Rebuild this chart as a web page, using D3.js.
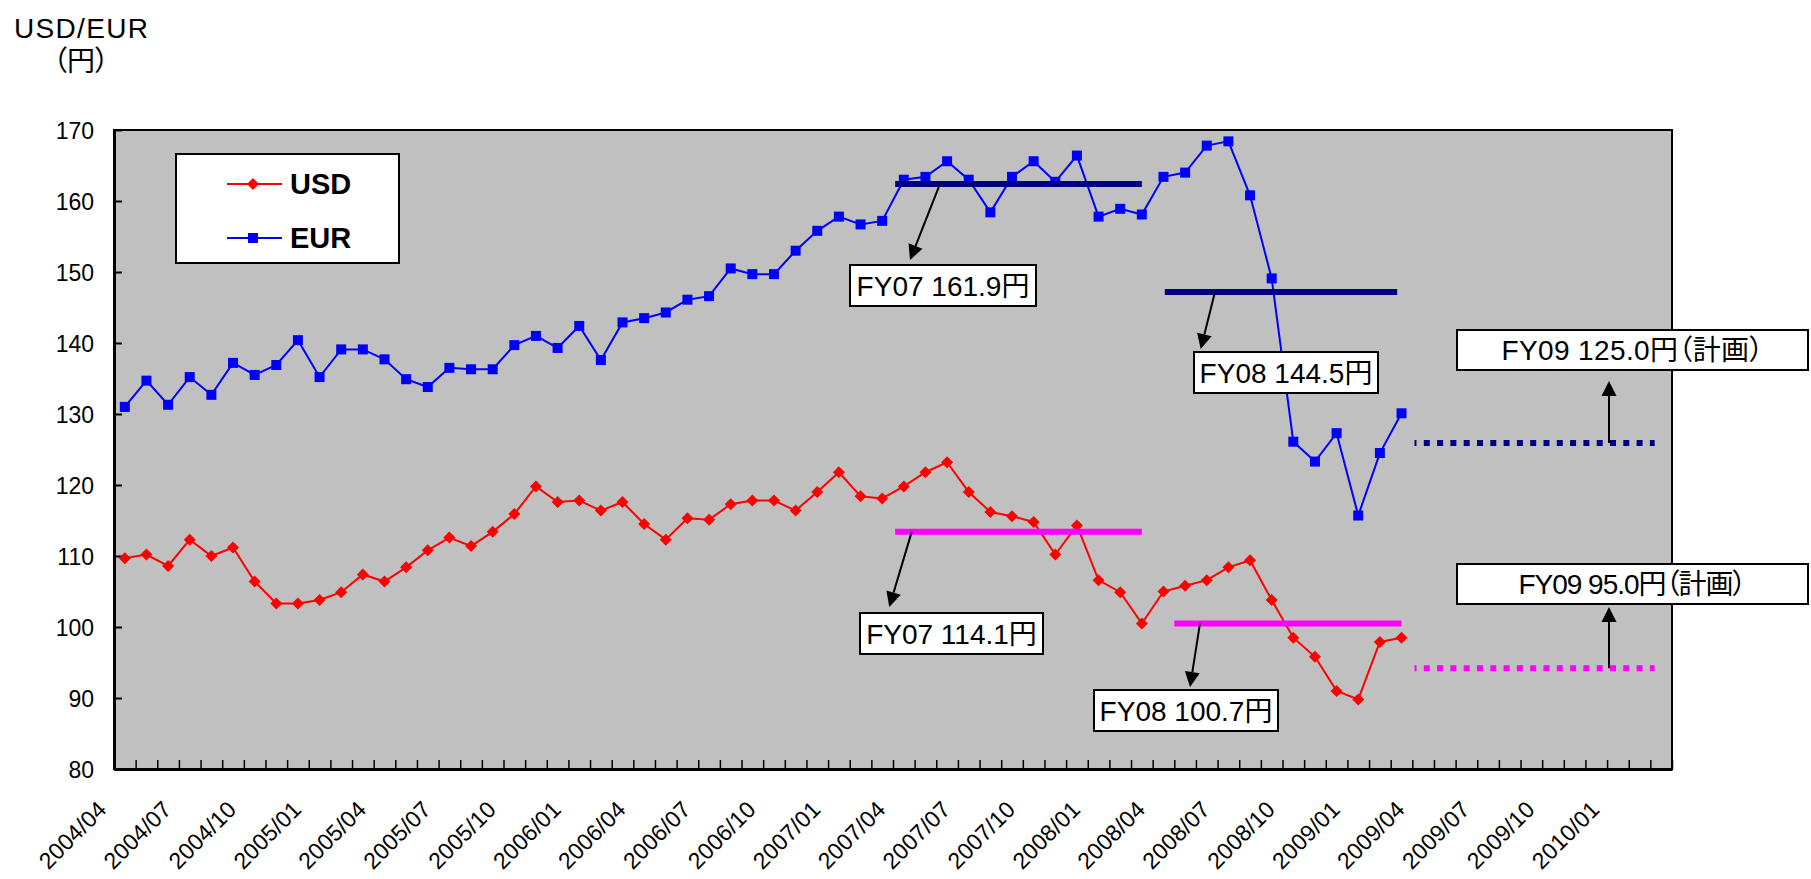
<!DOCTYPE html>
<html><head><meta charset="utf-8">
<script src="https://cdn.jsdelivr.net/npm/d3@7"></script>
<style>
html,body{margin:0;padding:0;background:#fff;}
svg{display:block;}
text{font-family:"Liberation Sans","Noto Sans CJK JP",sans-serif;fill:#000;font-feature-settings:"palt";}
</style></head><body>
<svg id="chart" width="1811" height="879"></svg>
<script>
// ---------------- DATA ----------------
const months = [
 "2004/04","2004/05","2004/06","2004/07","2004/08","2004/09","2004/10","2004/11","2004/12",
 "2005/01","2005/02","2005/03","2005/04","2005/05","2005/06","2005/07","2005/08","2005/09","2005/10","2005/11","2005/12",
 "2006/01","2006/02","2006/03","2006/04","2006/05","2006/06","2006/07","2006/08","2006/09","2006/10","2006/11","2006/12",
 "2007/01","2007/02","2007/03","2007/04","2007/05","2007/06","2007/07","2007/08","2007/09","2007/10","2007/11","2007/12",
 "2008/01","2008/02","2008/03","2008/04","2008/05","2008/06","2008/07","2008/08","2008/09","2008/10","2008/11","2008/12",
 "2009/01","2009/02","2009/03","2009/04","2009/05","2009/06","2009/07","2009/08","2009/09","2009/10","2009/11","2009/12",
 "2010/01","2010/02","2010/03"
];
const tickLabels = ["2004/04","2004/07","2004/10","2005/01","2005/04","2005/07","2005/10","2006/01","2006/04","2006/07","2006/10","2007/01","2007/04","2007/07","2007/10","2008/01","2008/04","2008/07","2008/10","2009/01","2009/04","2009/07","2009/10","2010/01"];
const yTicks = [80,90,100,110,120,130,140,150,160,170];

const usd = [109.7,110.2,108.6,112.3,110.0,111.2,106.4,103.3,103.3,103.8,104.9,107.4,106.4,108.4,110.8,112.6,111.4,113.4,115.9,119.8,
 117.6,117.8,116.4,117.6,114.5,112.3,115.3,115.1,117.3,117.8,117.8,116.4,119.0,121.8,118.4,118.1,119.8,121.8,123.2,119.0,
 116.2,115.6,114.8,110.2,114.3,106.6,104.9,100.5,105.0,105.8,106.6,108.4,109.4,103.8,98.5,95.8,91.0,89.8,97.9,98.5];
const eur = [131.0,134.7,131.3,135.2,132.7,137.2,135.5,136.9,140.4,135.2,139.1,139.1,137.7,134.9,133.8,136.5,136.3,136.3,139.7,141.0,
 139.3,142.4,137.6,142.9,143.5,144.3,146.1,146.6,150.5,149.7,149.7,153.0,155.8,157.8,156.7,157.2,163.0,163.4,165.6,163.0,
 158.4,163.4,165.6,162.7,166.4,157.8,158.9,158.1,163.4,164.0,167.8,168.4,160.8,149.1,126.1,123.3,127.3,115.7,124.5,130.1];

const fyStart = ["2007/04","2008/04","2009/04"];
const fyEnd   = ["2008/03","2009/03","2010/03"];
const usdAvgLevel = [113.4,100.5,94.2];
const eurAvgLevel = [162.4,147.2,125.9];
const usdAvgLabel = ["FY07 114.1円","FY08 100.7円","FY09 95.0円（計画）"];
const eurAvgLabel = ["FY07 161.9円","FY08 144.5円","FY09 125.0円（計画）"];

// ---------------- LAYOUT / STYLE ----------------
const P = {l:114, r:1672, t:130, b:769};
const svg = d3.select("#chart");

const x = d3.scaleBand().domain(months).range([P.l, P.r]).padding(0);
const step = x.step();
const cx = m => x(m) + step/2;
const xi = d3.scaleLinear().domain([0, months.length]).range([P.l, P.r]);
const y = d3.scaleLinear().domain([80,170]).range([P.b, P.t]);

// plot area
svg.append("rect").attr("x",P.l).attr("y",P.t).attr("width",P.r-P.l).attr("height",P.b-P.t)
  .attr("fill","#C0C0C0").attr("stroke","#000").attr("stroke-width",2);

// y axis
const yAxis = svg.append("g").attr("transform",`translate(${P.l},0)`)
  .call(d3.axisLeft(y).tickValues(yTicks).tickSize(-8).tickSizeOuter(0).tickPadding(20));
yAxis.select(".domain").attr("stroke","#000").attr("stroke-width",3);
yAxis.selectAll(".tick line").attr("stroke","#000").attr("stroke-width",2);
yAxis.selectAll(".tick text").attr("font-size",23).attr("font-family",null).attr("dy","0.36em");

// x axis (boundary ticks)
const xAxis = svg.append("g").attr("transform",`translate(0,${P.b})`)
  .call(d3.axisBottom(xi).tickValues(d3.range(months.length+1)).tickSize(-9).tickSizeOuter(0).tickFormat(""));
xAxis.select(".domain").attr("stroke","#000").attr("stroke-width",3);
xAxis.selectAll(".tick line").attr("stroke","#000").attr("stroke-width",1.5);

// x labels
const xLab = svg.append("g").attr("transform",`translate(0,${P.b})`)
  .call(d3.axisBottom(x).tickValues(tickLabels).tickSize(0));
xLab.select(".domain").remove();
xLab.selectAll(".tick text").attr("font-size",23).attr("font-family",null)
  .attr("x",0).attr("y",0).attr("dy",0).attr("text-anchor","end")
  .attr("textLength",84).attr("lengthAdjust","spacing")
  .attr("transform","translate(-17,42) rotate(-45)");

// series
const line = d3.line().x((d,i)=>cx(months[i])).y(d=>y(d));
svg.append("path").datum(usd).attr("d",line).attr("fill","none").attr("stroke","#FF0000").attr("stroke-width",2);
svg.append("path").datum(eur).attr("d",line).attr("fill","none").attr("stroke","#0000FF").attr("stroke-width",2);

const diamond = d3.symbol().type(d3.symbolSquare).size(72);
svg.append("g").selectAll("path").data(usd).join("path")
  .attr("d",diamond).attr("fill","#FF0000")
  .attr("transform",(d,i)=>`translate(${cx(months[i])},${y(d)}) rotate(45)`);
svg.append("g").selectAll("rect").data(eur).join("rect")
  .attr("x",(d,i)=>cx(months[i])-5).attr("y",d=>y(d)-5).attr("width",10).attr("height",10).attr("fill","#0000FF");

// FY average lines
const fyOff = [[-0.4,0.0],[0.06,-0.2],[-0.4,-0.3]];
const fyOffUsd = [[-0.4,0.0],[0.5,0.0],[-0.4,-0.3]];
function fyLine(levels, offs, color){
  levels.forEach((v,i)=>{
    const x1 = cx(fyStart[i]) + offs[i][0]*step, x2 = cx(fyEnd[i]) + offs[i][1]*step;
    const ln = svg.append("line").attr("x1",x1).attr("x2",x2).attr("y1",y(v)).attr("y2",y(v))
      .attr("stroke",color).attr("stroke-width",6);
    if(i===2) ln.attr("stroke-dasharray","6 7.3").attr("stroke-dashoffset",4);
  });
}
fyLine(eurAvgLevel, fyOff, "#000080");
fyLine(usdAvgLevel, fyOffUsd, "#FF00FF");

// annotations: [arrow start x (px), tip x, tip y, box x, box y, box w, box h, text length]
const eurAnn = [[940,910,260,850,265,186,41,0],[1215,1200.7,349,1194,352,184,41,0],[1609,1609,381,1457,330,351,40,262]];
const usdAnn = [[911.7,889.3,607,860,613,183,41,0],[1200,1190,687,1094,690,184,41,0],[1609,1609,607,1457,564,351,40,228]];
function annotate(levels, labels, ann){
  levels.forEach((v,i)=>{
    const [sx,tx,ty,bx,by,bw,bh,tl] = ann[i];
    const sy = y(v);
    const dx = tx-sx, dy = ty-sy, L = Math.hypot(dx,dy), ux = dx/L, uy = dy/L;
    const hl = 15, hw = 7.5;
    const bxp = tx-ux*hl, byp = ty-uy*hl;
    svg.append("line").attr("x1",sx).attr("y1",sy).attr("x2",bxp).attr("y2",byp)
      .attr("stroke","#000").attr("stroke-width",2);
    svg.append("path").attr("d",`M${tx},${ty}L${bxp-uy*hw},${byp+ux*hw}L${bxp+uy*hw},${byp-ux*hw}Z`).attr("fill","#000");
    svg.append("rect").attr("x",bx).attr("y",by).attr("width",bw).attr("height",bh)
      .attr("fill","#fff").attr("stroke","#000").attr("stroke-width",2);
    const t = svg.append("text").attr("x",bx+bw/2).attr("y",by+bh/2).attr("dy","0.36em")
      .attr("text-anchor","middle").attr("font-size",28).text(labels[i]);
    if(tl) t.attr("textLength",tl).attr("lengthAdjust","spacing");
  });
}
annotate(eurAvgLevel, eurAvgLabel, eurAnn);
annotate(usdAvgLevel, usdAvgLabel, usdAnn);

// legend
const lg = svg.append("g");
lg.append("rect").attr("x",176).attr("y",154).attr("width",223).attr("height",109)
  .attr("fill","#fff").attr("stroke","#000").attr("stroke-width",2);
const legendItems = [["USD","#FF0000","d",184],["EUR","#0000FF","s",238]];
legendItems.forEach(([name,col,shape,ly])=>{
  lg.append("line").attr("x1",227).attr("x2",282).attr("y1",ly).attr("y2",ly).attr("stroke",col).attr("stroke-width",2);
  if(shape==="d") lg.append("path").attr("d",diamond).attr("fill",col).attr("transform",`translate(253,${ly}) rotate(45)`);
  else lg.append("rect").attr("x",248).attr("y",ly-5).attr("width",10).attr("height",10).attr("fill",col);
  lg.append("text").attr("x",290).attr("y",ly).attr("dy","0.36em").attr("font-size",29).attr("font-weight","bold").text(name);
});

// axis title
svg.append("text").attr("x",81).attr("y",38).attr("text-anchor","middle").attr("font-size",28)
  .attr("textLength",134).attr("lengthAdjust","spacing").text("USD/EUR");
svg.append("text").attr("x",81).attr("y",71).attr("text-anchor","middle").attr("font-size",28)
  .attr("textLength",56).attr("lengthAdjust","spacing").text("（円）");
</script></body></html>
